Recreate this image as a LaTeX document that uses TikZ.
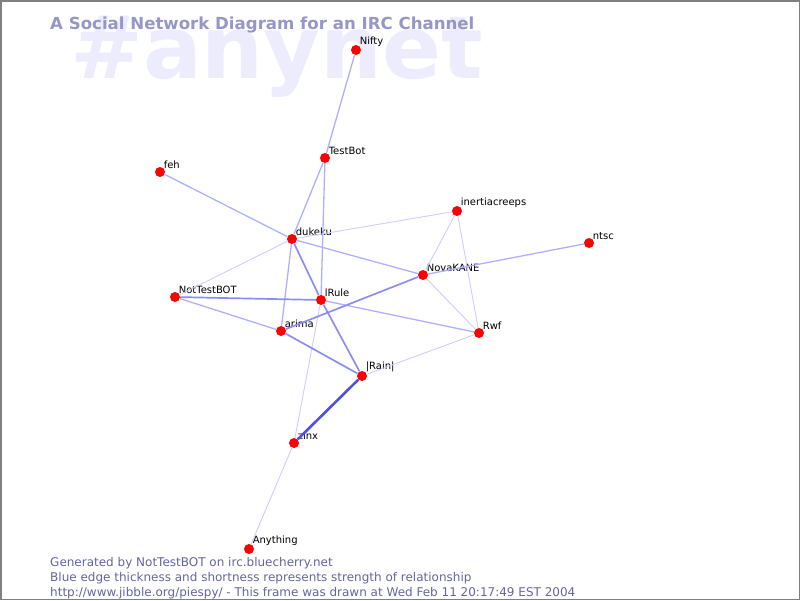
\documentclass[tikz,border=0pt]{standalone}
\usepackage{fontspec}
\setmainfont{DejaVu Sans}
\definecolor{ttl}{RGB}{150,150,200}
\definecolor{ghost}{RGB}{236,236,252}
\definecolor{foot}{RGB}{100,100,160}
\definecolor{e1}{RGB}{205,205,255}
\definecolor{e2}{RGB}{175,175,255}
\definecolor{e3}{RGB}{140,140,245}
\definecolor{e4}{RGB}{80,80,225}
\tikzset{
    user/.style =   {circle,
                    fill=red,
                    draw=none,
                    inner sep=0pt,
                    minimum size=10pt},
    nick/.style =   {font=\fontsize{10}{10}\selectfont,
                    text=black,
                    inner sep=1pt},
    weak/.style =   {draw=e1, line width=0.9pt},
    mid/.style =    {draw=e2, line width=1.3pt},
    strong/.style = {draw=e3, line width=1.7pt},
    top/.style =    {draw=e4, line width=2.6pt},
    footline/.style = {anchor=base west,
                    inner sep=0pt,
                    text=foot,
                    font=\fontsize{12}{12}\selectfont},
    every label/.style = {nick},
    label distance=-1.5pt
}

\begin{document}
\begin{tikzpicture}[x=1pt,y=-1pt]
    \useasboundingbox (0,0) rectangle (800,600);
    \draw[gray, line width=1.5pt] (0.75,0.75) rectangle (799.25,599.25);
    % watermark and title
    \node[anchor=base west, inner sep=0pt, text=ghost,
          font=\bfseries\fontsize{87}{87}\selectfont] (chan) at (70,78) {\#anynet};
    \node[anchor=base west, inner sep=0pt, text=ttl,
          font=\bfseries\fontsize{16.6}{16.6}\selectfont] (title) at (50,29) {A Social Network Diagram for an IRC Channel};
    % users
    \node[user, label=45:Nifty]         (nifty)   at (356,50)  {};
    \node[user, label=45:TestBot]       (testbot) at (325,158) {};
    \node[user, label=45:feh]           (feh)     at (160,172) {};
    \node[user, label=45:dukeku]        (dukeku)  at (292,239) {};
    \node[user, label=45:inertiacreeps] (inertia) at (457,211) {};
    \node[user, label=45:ntsc]          (ntsc)    at (589,243) {};
    \node[user, label=45:NovaKANE]      (nova)    at (423,275) {};
    \node[user, label=45:NotTestBOT]    (ntb)     at (175,297) {};
    \node[user, label=45:lRule]         (lrule)   at (321,300) {};
    \node[user, label=45:arima]         (arima)   at (281,331) {};
    \node[user, label=45:Rwf]           (rwf)     at (479,333) {};
    \node[user, label=45:|Rain|]        (rain)    at (362,376) {};
    \node[user, label=45:zinx]          (zinx)    at (294,443) {};
    \node[user, label=45:Anything]      (any)     at (249,549) {};
    % relationships
    \path (nifty) edge[mid] (testbot)
          (testbot) edge[mid] (dukeku)
          (testbot) edge[mid] (lrule)
          (feh) edge[mid] (dukeku)
          (dukeku) edge[weak] (inertia)
          (dukeku) edge[mid] (nova)
          (dukeku) edge[weak] (ntb)
          (dukeku) edge[strong] (lrule)
          (dukeku) edge[mid] (arima)
          (lrule) edge[strong] (rain)
          (lrule) edge[weak] (zinx)
          (lrule) edge[mid] (rwf)
          (ntb) edge[strong] (lrule)
          (ntb) edge[mid] (arima)
          (arima) edge[strong] (nova)
          (arima) edge[strong] (rain)
          (rain) edge[weak] (rwf)
          (rain) edge[top] (zinx)
          (nova) edge[weak] (inertia)
          (nova) edge[mid] (ntsc)
          (nova) edge[weak] (rwf)
          (inertia) edge[weak] (rwf)
          (zinx) edge[weak] (any);
    % footer
    \node[footline] (gen)  at (50,566) {Generated by NotTestBOT on irc.bluecherry.net};
    \node[footline] (note) at (50,581) {Blue edge thickness and shortness represents strength of relationship};
    \node[footline] (url)  at (50,596) {http://www.jibble.org/piespy/ - This frame was drawn at Wed Feb 11 20:17:49 EST 2004};
\end{tikzpicture}
\end{document}
